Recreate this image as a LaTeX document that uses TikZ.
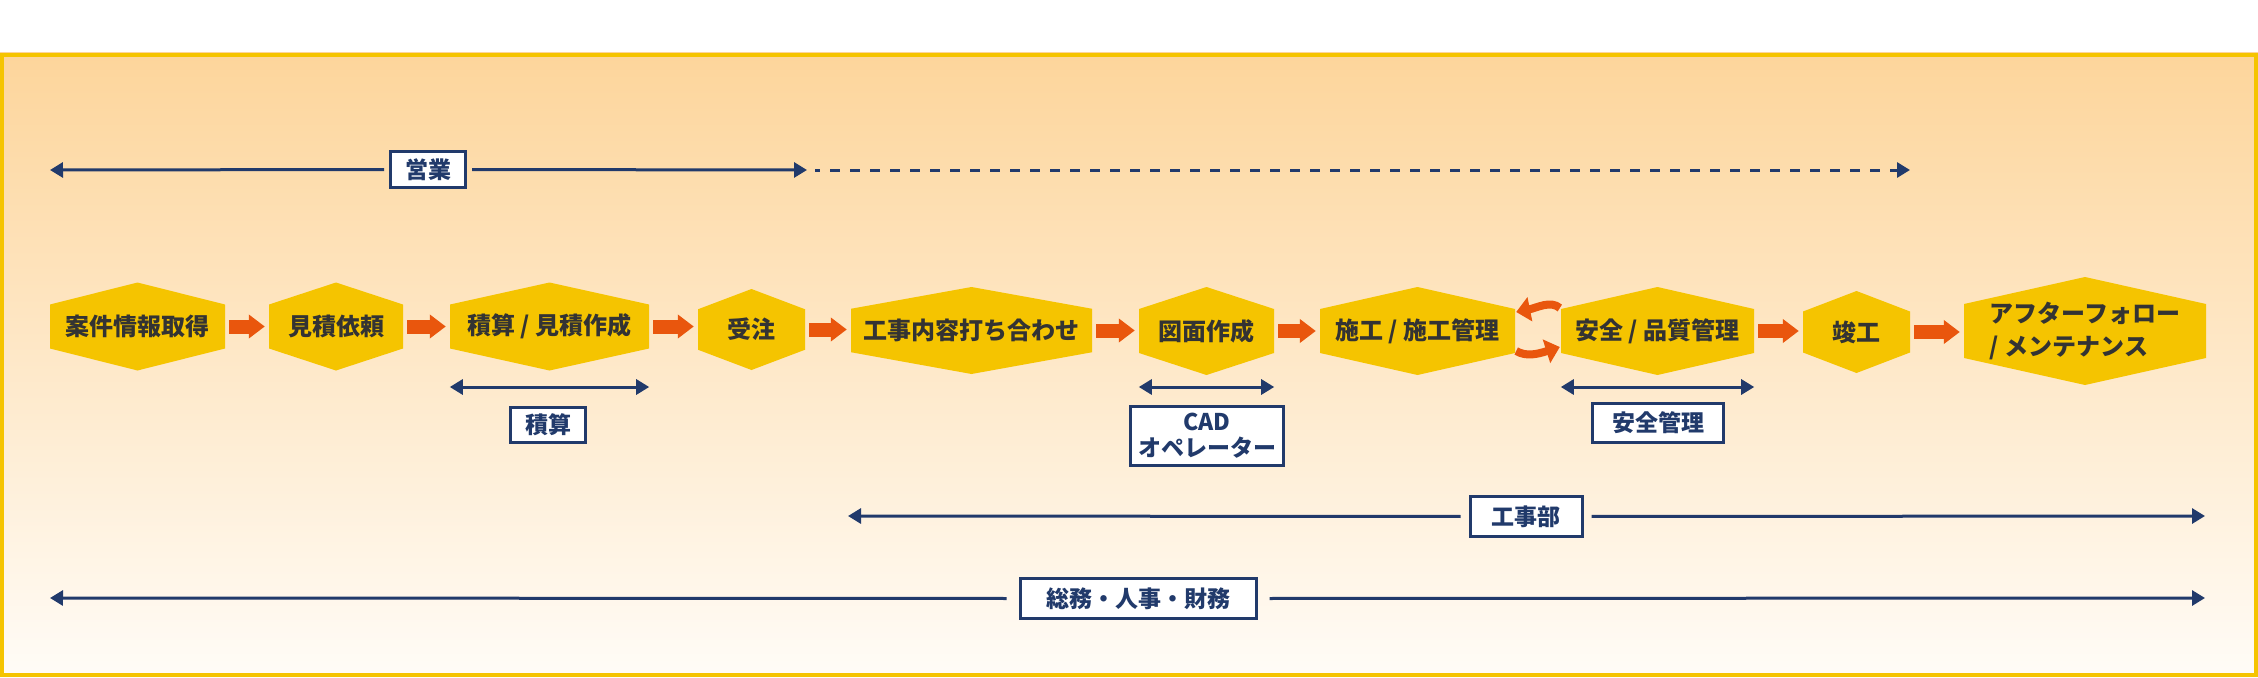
\documentclass[tikz,border=0pt]{standalone}
\usepackage{fontspec}
\setmainfont{Noto Sans CJK JP}
\usetikzlibrary{arrows.meta,calc}
\definecolor{hexyellow}{HTML}{F5C400}
\definecolor{floworange}{HTML}{E9560D}
\definecolor{deptnavy}{HTML}{213A6B}
\definecolor{stagetext}{HTML}{333333}
\definecolor{bgtop}{HTML}{FDD59B}
\definecolor{bgbottom}{HTML}{FFFCF7}
\tikzset{
  stage/.style={inner sep=0pt, minimum height=88pt, text=stagetext, align=center,
    font=\bfseries\fontsize{24}{33}\selectfont,
    path picture={\fill[hexyellow] (path picture bounding box.north)
      -- ($(path picture bounding box.north east)!.25!(path picture bounding box.south east)$)
      -- ($(path picture bounding box.north east)!.75!(path picture bounding box.south east)$)
      -- (path picture bounding box.south)
      -- ($(path picture bounding box.north west)!.75!(path picture bounding box.south west)$)
      -- ($(path picture bounding box.north west)!.25!(path picture bounding box.south west)$)
      -- cycle;}},
  flow/.style={floworange, line width=14pt, -{Triangle[length=16pt,width=23pt]},
    shorten <=4pt, shorten >=4pt},
  swap/.style={floworange, line width=8pt, -{Triangle[length=14pt,width=24pt]}},
  role/.style={deptnavy, line width=3pt, >={Triangle[length=13pt,width=15pt]}},
  deptbox/.style={draw=deptnavy, line width=3pt, fill=white, text=deptnavy, inner sep=0pt,
    align=center, font=\bfseries\fontsize{23}{26}\selectfont},
}

\begin{document}
\begin{tikzpicture}[x=1pt, y=-1pt]
		%%%%% START %%%%%
		\useasboundingbox (0,0) rectangle (2258,677);
		\shade[top color=bgtop, bottom color=bgbottom] (0,53) rectangle (2258,677);
		\draw[hexyellow, line width=4pt] (2,55) rectangle (2256,675);

		% stages
		\node[stage, minimum width=175pt] (info) at (137.5,326.5) {案件情報取得};
		\node[stage, minimum width=134pt] (request) at (336,326.5) {見積依頼};
		\node[stage, minimum width=199pt] (estimate) at (549.5,326.5) {積算 / 見積作成};
		\node[stage, minimum width=107pt, minimum height=81pt] (order) at (751.5,329.5) {受注};
		\node[stage, minimum width=241pt, minimum height=87pt] (meeting) at (971.5,330.5) {工事内容打ち合わせ};
		\node[stage, minimum width=135pt] (drawing) at (1206.5,331) {図面作成};
		\node[stage, minimum width=195pt] (build) at (1417.5,331) {施工 / 施工管理};
		\node[stage, minimum width=193pt] (safety) at (1657.5,331) {安全 / 品質管理};
		\node[stage, minimum width=107pt, minimum height=82pt] (done) at (1856.5,332) {竣工};
		\node[stage, minimum width=242pt, minimum height=108pt, align=left] (after) at (2085,331) {アフターフォロー\\/ メンテナンス};

		\draw[flow] (info.east) -- (request.west |- info.east);
		\draw[flow] (request.east) -- (estimate.west |- request.east);
		\draw[flow] (estimate.east) -- (order.west |- estimate.east);
		\draw[flow] (order.east) -- (meeting.west |- order.east);
		\draw[flow] (meeting.east) -- (drawing.west |- meeting.east);
		\draw[flow] (drawing.east) -- (build.west |- drawing.east);
		\draw[flow] (safety.east) -- (done.west |- safety.east);
		\draw[flow] (done.east) -- (after.west |- done.east);

		\draw[swap] ($(safety.west)+(-1,-23)$) .. controls ($(safety.west)+(-10,-31)$) and ($(build.east)+(21,-23)$) .. ($(build.east)+(1,-19)$);
		\draw[swap] ($(build.east)+(1,20)$) .. controls ($(build.east)+(11,26)$) and ($(safety.west)+(-23,23)$) .. ($(safety.west)+(-1,16)$);

		% sub roles
		\coordinate (subrow) at (0,387);
		\draw[role,<->] (estimate.west |- subrow) -- (estimate.east |- subrow);
		\draw[role,<->] (drawing.west |- subrow) -- (drawing.east |- subrow);
		\draw[role,<->] (safety.west |- subrow) -- (safety.east |- subrow);
		\node[deptbox, minimum width=75pt, minimum height=35pt] (cost) at (548,425) {積算};
		\node[deptbox, minimum width=153pt, minimum height=59pt] (cad) at (1207,436) {CAD\\オペレーター};
		\node[deptbox, minimum width=131pt, minimum height=39pt] (safe) at (1658,423) {安全管理};

		% departments
		\coordinate (salesL) at (50,170);
		\coordinate (salesM) at (807,170);
		\coordinate (salesD) at (815,170);
		\coordinate (salesR) at (1910,170);
		\node[deptbox, minimum width=75pt, minimum height=36pt] (sales) at (428,169.5) {営業};
		\draw[role,<-,shorten >=5pt] (salesL) -- (sales.west);
		\draw[role,->,shorten <=5pt] (sales.east) -- (salesM);
		\draw[role,->,dash pattern=on 10pt off 10pt,dash phase=5pt] (salesD) -- (salesR);

		\coordinate (worksL) at (848,516);
		\coordinate (worksR) at (2205,516);
		\node[deptbox, minimum width=112pt, minimum height=40pt] (works) at (1526,516.5) {工事部};
		\draw[role,<-,shorten >=8pt] (worksL) -- (works.west);
		\draw[role,->,shorten <=8pt] (works.east) -- (worksR);

		\coordinate (adminL) at (50,598);
		\coordinate (adminR) at (2205,598);
		\node[deptbox, minimum width=236pt, minimum height=40pt] (admin) at (1138,598.5) {総務・人事・財務};
		\draw[role,<-,shorten >=12pt] (adminL) -- (admin.west);
		\draw[role,->,shorten <=12pt] (admin.east) -- (adminR);
		%%%%% END %%%%%
\end{tikzpicture}
\end{document}
